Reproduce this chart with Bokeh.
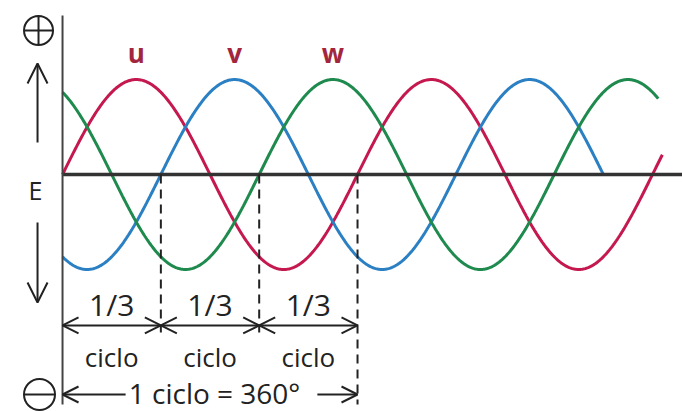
import numpy as np
from bokeh.plotting import figure
from bokeh.models import Range1d, Arrow, OpenHead, ColumnDataSource
from bokeh.core.properties import value
from bokeh.embed import file_html
from bokeh.resources import INLINE

# Three-phase voltages: name, phase lag (degrees), where each trace stops, colour
phases = ["u", "v", "w"]
phase_shift = [0, 120, 240]
phase_end = [732, 660, 727]
phase_colors = ["#c4184f", "#2b7fc3", "#1f8a4d"]
amplitude = 1.0

# One cycle split into thirds
third_marks = [0, 120, 240, 360]
third_labels = ["1/3", "1/3", "1/3"]
third_captions = ["ciclo", "ciclo", "ciclo"]
cycle_caption = "1 ciclo = 360°"

INK = "#222222"
FONT = value("Open Sans")

p = figure(width=682, height=411, x_range=Range1d(-75.7, 756.6),
           y_range=Range1d(-2.495, 1.832), x_axis_type=None, y_axis_type=None,
           output_backend="svg", toolbar_location=None, min_border=0)
p.grid.visible = False
p.outline_line_color = None
p.background_fill_color = "white"

# sine traces
for name, shift, end, color in zip(phases, phase_shift, phase_end, phase_colors):
    deg = np.linspace(0, end, 600)
    src = ColumnDataSource(dict(x=deg, y=amplitude * np.sin(np.radians(deg - shift))))
    p.line("x", "y", source=src, line_color=color, line_width=3)

# phase names above each first peak
p.text(x=[s + 90 for s in phase_shift], y=[1.284] * 3, text=phases,
       text_color="#a3263d", text_font=FONT, text_font_size="26px",
       text_font_style="bold", text_align="center", text_baseline="alphabetic")

# time axis and vertical axis
p.segment(x0=[0], y0=[0], x1=[760], y1=[0], line_color="#333333", line_width=3.5)
p.segment(x0=[0], y0=[1.674], x1=[0], y1=[-2.421], line_color="#444444", line_width=2)

# dashed guides at each third
guide_bottom = [-1.663, -1.663, -2.421]
p.segment(x0=third_marks[1:], y0=[0] * 3, x1=third_marks[1:], y1=guide_bottom,
          line_color=INK, line_width=2, line_dash="9 6")

# double arrows spanning each third
arr_y = -1.589
arr_src = ColumnDataSource(dict(x0=third_marks[:-1], x1=third_marks[1:],
                                y0=[arr_y] * 3, y1=[arr_y] * 3))
p.add_layout(Arrow(x_start="x0", y_start="y0", x_end="x1", y_end="y1", source=arr_src,
                   line_color=INK, line_width=2,
                   start=OpenHead(size=16, line_color=INK, line_width=2),
                   end=OpenHead(size=16, line_color=INK, line_width=2)))

mids = [(a + b) / 2 for a, b in zip(third_marks[:-1], third_marks[1:])]
p.text(x=mids, y=[-1.368] * 3, text=third_labels, text_color=INK, text_font=FONT,
       text_font_size="30px", text_align="center", text_baseline="alphabetic")
p.text(x=mids, y=[-1.926] * 3, text=third_captions, text_color=INK, text_font=FONT,
       text_font_size="26px", text_align="center", text_baseline="alphabetic")

# whole-cycle caption with arrows to both ends
p.text(x=[185.5], y=[-2.30], text=[cycle_caption], text_color=INK, text_font=FONT,
       text_font_size="28px", text_align="center", text_baseline="alphabetic")
p.add_layout(Arrow(x_start=77, y_start=-2.316, x_end=third_marks[0], y_end=-2.316,
                   line_color=INK, line_width=2,
                   end=OpenHead(size=16, line_color=INK, line_width=2)))
p.add_layout(Arrow(x_start=311, y_start=-2.316, x_end=third_marks[-1], y_end=-2.316,
                   line_color=INK, line_width=2,
                   end=OpenHead(size=16, line_color=INK, line_width=2)))

# polarity signs and E arrows on the left
p.scatter(x=[-29.3], y=[1.516], marker="circle_cross", size=29, fill_color=None,
          line_color=INK, line_width=2)
p.scatter(x=[-28.1, -28.1], y=[-2.316, -2.316], marker=["circle", "dash"],
          size=[31, 29], fill_color=None, line_color=INK, line_width=2)
p.text(x=[-33], y=[-0.158], text=["E"], text_color=INK, text_font=FONT,
       text_font_size="25px", text_align="center", text_baseline="alphabetic")
p.add_layout(Arrow(x_start=-30.5, y_start=0.337, x_end=-30.5, y_end=1.168,
                   line_color=INK, line_width=2,
                   end=OpenHead(size=20, line_color=INK, line_width=2)))
p.add_layout(Arrow(x_start=-30.5, y_start=-0.505, x_end=-30.5, y_end=-1.347,
                   line_color=INK, line_width=2,
                   end=OpenHead(size=20, line_color=INK, line_width=2)))

open("out.html", "w").write(file_html(p, INLINE))
